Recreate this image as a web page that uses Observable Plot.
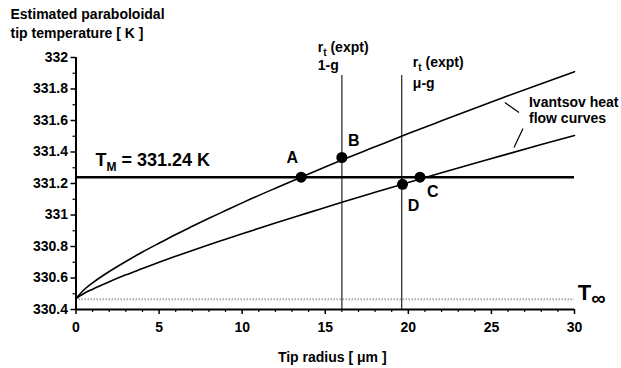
<!DOCTYPE html>
<html><head><meta charset="utf-8">
<script src="https://cdn.jsdelivr.net/npm/d3@7"></script>
<script src="https://cdn.jsdelivr.net/npm/@observablehq/plot@0.6"></script>
<style>
body{margin:0;background:#fff}
#chart svg{font-family:"Liberation Sans",Arial,Helvetica,sans-serif;font-weight:bold;background:#fff;overflow:visible}
</style>
</head><body><div id="chart"></div>
<script>
// ---- data ----
const radius      = [0,0.5,1,2,3,4,5,6,7,8,9,10,12,14,16,18,20,22,24,26,28,30];
const upperCurve  = [330.470,330.527,330.569,330.641,330.705,330.765,330.821,330.876,330.928,330.979,331.028,331.077,331.170,331.260,331.349,331.433,331.517,331.598,331.678,331.757,331.834,331.910];
const lowerCurve  = [330.470,330.503,330.529,330.576,330.620,330.660,330.700,330.738,330.775,330.811,330.846,330.881,330.949,331.015,331.081,331.144,331.206,331.268,331.328,331.388,331.447,331.505];
const meltingT    = 331.24;
const farFieldT   = 330.465;
const exptRadius  = [16.0, 19.6];
const exptTop     = 331.886;
const pointNames  = ["A","B","C","D"];
const pointX      = [13.55, 16.0, 20.7, 19.65];
const pointY      = [331.24, 331.365, 331.24, 331.195];
const pointLabelX = [13.02, 16.72, 21.47, 20.31];
const pointLabelY = [331.36, 331.473, 331.15, 331.06];
const xTicks      = [0,5,10,15,20,25,30];
const xMinor      = d3.range(0,31).filter(v => v % 5 !== 0);
const yTicks      = [330.4,330.6,330.8,331,331.2,331.4,331.6,331.8,332];
const yMinor      = [330.5,330.7,330.9,331.1,331.3,331.5,331.7,331.9];
const yTickLabels = ["330.4","330.6","330.8","331","331.2","331.4","331.6","331.8","332"];
const noteText    = ["r_t (expt)","1-g","r_t (expt)","\u03bc-g","Ivantsov heat","flow curves"];
const noteX       = [14.55,14.55,20.27,20.27,27.26,27.26];
const noteY       = [332.066,331.948,331.965,331.833,331.714,331.613];
const leaderX1    = [25.81, 26.36];
const leaderY1    = [331.714, 331.429];
const leaderX2    = [26.66, 26.9];
const leaderY2    = [331.651, 331.549];

const curveRows = radius.map((r,i)=>({r, up: upperCurve[i], lo: lowerCurve[i]}));
const pts = pointNames.map((n,i)=>({n, x: pointX[i], y: pointY[i], lx: pointLabelX[i], ly: pointLabelY[i]}));
const notes = noteText.map((t,i)=>({t, x: noteX[i], y: noteY[i]}));
const leaders = leaderX1.map((v,i)=>({x1:v, y1:leaderY1[i], x2:leaderX2[i], y2:leaderY2[i]}));

const chart = Plot.plot({
  width: 621, height: 368,
  marginLeft: 75.5, marginRight: 47, marginTop: 57, marginBottom: 59,
  x: {domain: [0,30]},
  y: {domain: [330.4,332]},
  marks: [
    Plot.ruleY([farFieldT], {x1: 0, x2: 30, stroke: "#aaa", strokeWidth: 2, strokeDasharray: "1.5,1.5"}),
    Plot.ruleX(exptRadius, {y1: 330.4, y2: exptTop, stroke: "#333", strokeWidth: 1.3}),
    Plot.ruleY([meltingT], {x1: 0, x2: 30, stroke: "#000", strokeWidth: 2.6}),
    Plot.line(curveRows, {x: "r", y: "up", curve: "monotone-x", stroke: "#000", strokeWidth: 1.6}),
    Plot.line(curveRows, {x: "r", y: "lo", curve: "monotone-x", stroke: "#000", strokeWidth: 1.6}),
    Plot.link(leaders, {x1: "x1", y1: "y1", x2: "x2", y2: "y2", stroke: "#000", strokeWidth: 1.2}),
    Plot.dot(pts, {x: "x", y: "y", r: 5.5, fill: "#000"}),
    Plot.text(pts, {x: "lx", y: "ly", text: "n", fontSize: 16, fill: "#000", lineAnchor: "middle"}),
    Plot.text(notes, {x: "x", y: "y", text: "t", fontSize: 14, textAnchor: "start", lineAnchor: "middle", fill: "#000"}),
    Plot.text(["T_M = 331.24 K"], {x: 1.17, y: 331.346, text: d => d, fontSize: 18, textAnchor: "start", lineAnchor: "middle", fill: "#000"}),
    Plot.text(["T_\u221e"], {x: 30.2, y: 330.505, text: d => d, fontSize: 22, textAnchor: "start", lineAnchor: "middle", fill: "#000"}),
    Plot.ruleX([0], {stroke: "#000", strokeWidth: 2}),
    Plot.ruleY([330.4], {stroke: "#000", strokeWidth: 2}),
    Plot.axisX({ticks: xTicks, tickSize: 5, tickPadding: 8, fontSize: 14, label: null, stroke: "#000", strokeWidth: 1.5}),
    Plot.axisX({ticks: xMinor, tickSize: 3, tickFormat: () => "", label: null, stroke: "#000", strokeWidth: 1.2}),
    Plot.axisY({ticks: yTicks, tickSize: 5, tickPadding: 3, fontSize: 14, label: null, tickFormat: d => yTickLabels[yTicks.indexOf(d)], stroke: "#000", strokeWidth: 1.5}),
    Plot.axisY({ticks: yMinor, tickSize: 3, tickFormat: () => "", label: null, stroke: "#000", strokeWidth: 1.2}),
    Plot.text(["Estimated paraboloidal"], {frameAnchor: "top-left", dx: -65.5, dy: -43, text: d => d, fontSize: 14, textAnchor: "start", lineAnchor: "middle", fill: "#000"}),
    Plot.text(["tip temperature [ K ]"], {frameAnchor: "top-left", dx: -65.5, dy: -24, text: d => d, fontSize: 14, textAnchor: "start", lineAnchor: "middle", fill: "#000"}),
    Plot.text(["Tip radius [ \u03bcm ]"], {frameAnchor: "bottom", dx: 7, dy: 48, text: d => d, fontSize: 14, lineAnchor: "middle", fill: "#000"})
  ]
});
document.getElementById("chart").appendChild(chart);

// subscripts: "base_sub rest"
d3.select(chart).selectAll("text").each(function(){
  const s = this.textContent;
  const m = s.match(/^(.*?)_(\S)(.*)$/);
  if (!m) return;
  const fs = parseFloat(getComputedStyle(this).fontSize) || 14;
  const inf = m[2] === "\u221e";
  const shift = Math.round(fs * (inf ? 0.22 : 0.25));
  const el = d3.select(this);
  el.text(null);
  el.append("tspan").text(m[1]);
  el.append("tspan").attr("dy", shift).attr("font-size", Math.round(fs * (inf ? 0.9 : 0.68))).text(m[2]);
  if (m[3]) el.append("tspan").attr("dy", -shift).text(m[3]);
});
</script>
</body></html>
